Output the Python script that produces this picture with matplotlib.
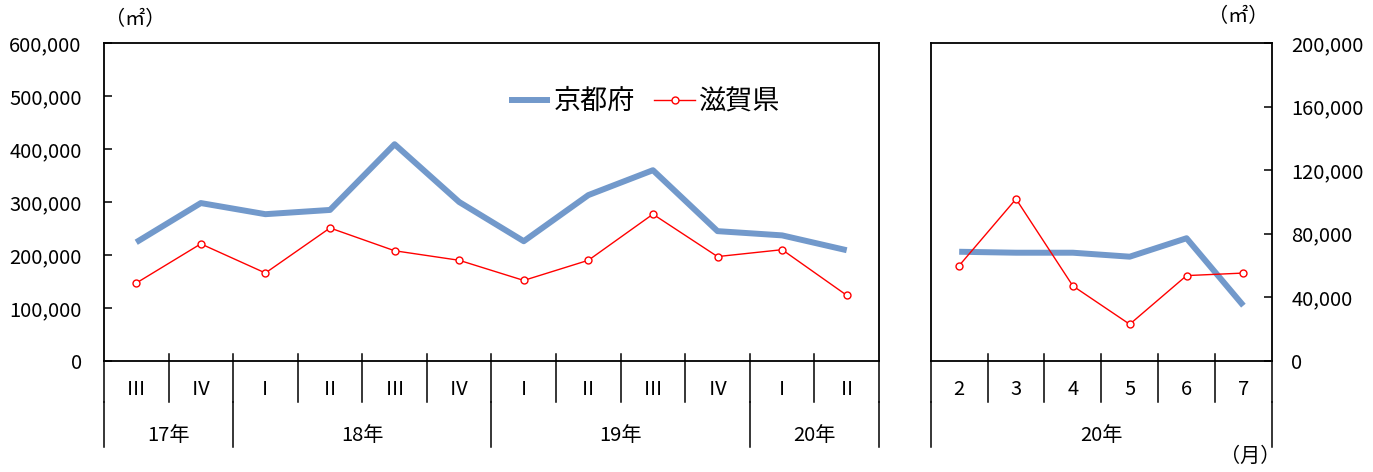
import matplotlib.pyplot as plt
from matplotlib.ticker import FuncFormatter

plt.rcParams['font.family'] = ['Noto Sans CJK JP', 'DejaVu Sans']

# ==== データ ====
quarters = ["Ⅲ", "Ⅳ", "Ⅰ", "Ⅱ", "Ⅲ", "Ⅳ", "Ⅰ", "Ⅱ", "Ⅲ", "Ⅳ", "Ⅰ", "Ⅱ"]
years_q = ["17年", "18年", "19年", "20年"]
years_q_span = [2, 4, 4, 2]
kyoto_q = [224000, 298000, 277000, 285000, 409000, 300000,
           226000, 313000, 360000, 245000, 237000, 209000]
shiga_q = [147000, 221000, 166000, 251000, 208000, 190000,
           152000, 190000, 277000, 197000, 210000, 124000]

months = ["2", "3", "4", "5", "6", "7"]
year_m = "20年"
kyoto_m = [68700, 68100, 68100, 65600, 77200, 34800]
shiga_m = [60000, 101900, 47200, 23100, 53700, 55300]

BLUE = "#7299CB"
RED = "#FF0000"
FS = 14.5

fig = plt.figure(figsize=(13.73, 4.72), dpi=100)
axL = fig.add_axes([0.0757, 0.2352, 0.5645, 0.6737])
axR = fig.add_axes([0.6779, 0.2352, 0.2484, 0.6737])

comma = FuncFormatter(lambda v, p: f"{int(v):,}")


def style(ax, n, ymax, step):
    ax.set_xlim(-0.5, n - 0.5)
    ax.set_ylim(0, ymax)
    ax.set_yticks(range(0, ymax + 1, step))
    ax.yaxis.set_major_formatter(comma)
    ax.set_xticks([])
    for s in ax.spines.values():
        s.set_linewidth(1.3)
        s.set_color("black")
    ax.tick_params(axis="y", direction="in", length=6, width=1.1,
                   labelsize=FS)


def dividers(ax, n, groups):
    tr = ax.get_xaxis_transform()
    for k in range(n - 1):
        ax.plot([k + 0.5, k + 0.5], [0.022, -0.129], color="black",
                lw=1.1, transform=tr, clip_on=False)
    edges = [-0.5]
    for span in groups:
        edges.append(edges[-1] + span)
    for e in edges:
        ax.plot([e, e], [-0.129, -0.270], color="black", lw=1.1,
                transform=tr, clip_on=False)
    ax.plot([-0.5, -0.5], [0, -0.129], color="black", lw=1.1,
            transform=tr, clip_on=False)
    ax.plot([n - 0.5, n - 0.5], [0, -0.129], color="black", lw=1.1,
            transform=tr, clip_on=False)
    return edges


# ==== 左：四半期 ====
xq = range(len(quarters))
style(axL, len(quarters), 600000, 100000)
axL.tick_params(axis="y", pad=16)
axL.plot(xq, kyoto_q, color=BLUE, lw=4.3, solid_capstyle="butt",
         label="京都府")
axL.plot(xq, shiga_q, color=RED, lw=1.0, marker="o", ms=5,
         mfc="white", mec=RED, mew=1.0, label="滋賀県")
trL = axL.get_xaxis_transform()
for i, q in enumerate(quarters):
    axL.text(i, -0.091, q, transform=trL, ha="center", va="center",
             fontsize=FS)
edges = dividers(axL, len(quarters), years_q_span)
for i, y in enumerate(years_q):
    axL.text((edges[i] + edges[i + 1]) / 2, -0.233, y, transform=trL,
             ha="center", va="center", fontsize=FS)
axL.legend(loc="center", bbox_to_anchor=(0.698, 0.815), ncol=2,
           frameon=False, fontsize=19.5, handlelength=1.5,
           handletextpad=0.15, columnspacing=0.7)

# ==== 右：月次 ====
xm = range(len(months))
style(axR, len(months), 200000, 40000)
axR.yaxis.tick_right()
axR.tick_params(axis="y", pad=14)
axR.plot(xm, kyoto_m, color=BLUE, lw=4.3, solid_capstyle="butt")
axR.plot(xm, shiga_m, color=RED, lw=1.0, marker="o", ms=5,
         mfc="white", mec=RED, mew=1.0)
trR = axR.get_xaxis_transform()
for i, m in enumerate(months):
    axR.text(i, -0.091, m, transform=trR, ha="center", va="center",
             fontsize=FS)
dividers(axR, len(months), [len(months)])
axR.text((len(months) - 1) / 2, -0.233, year_m, transform=trR,
         ha="center", va="center", fontsize=FS)

# ==== 単位 ====
fig.text(135 / 1373, 1 - 20 / 472, "（㎡）", ha="center", va="center",
         fontsize=14.5)
fig.text(1238 / 1373, 1 - 17 / 472, "（㎡）", ha="center", va="center",
         fontsize=14.5)
fig.text(1250 / 1373, 1 - 456 / 472, "（月）", ha="center", va="center",
         fontsize=14.5)

plt.savefig("out.png", dpi=100)
plt.close()
